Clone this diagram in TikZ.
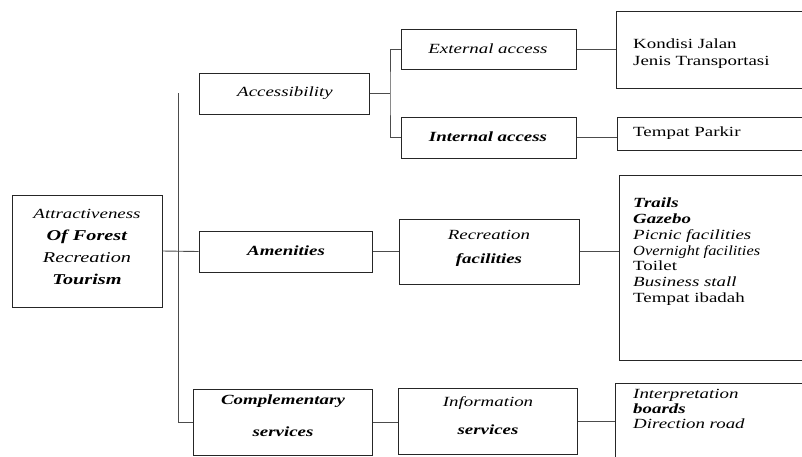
\documentclass[tikz,border=0pt]{standalone}
\usepackage{fontspec}
\setmainfont{Liberation Serif}[FakeStretch=1.35]
\newfontfamily\narrowserif{Liberation Serif}[FakeStretch=1.17]
\begin{document}
\begin{tikzpicture}[x=1pt,y=-1pt,
  box/.style={draw=black!85,line width=1pt,inner sep=0pt},
  conn/.style={draw=black!70,line width=0.9pt},
  txt/.style={inner sep=0pt,font=\fontsize{14}{15.7}\selectfont},
  lst/.style={inner sep=0pt,align=left,anchor=north west,font=\fontsize{14}{15.7}\selectfont}]
\useasboundingbox (0,0) rectangle (802,456);
\clip (0,0) rectangle (802,456);
% boxes
\node[box,minimum width=150pt,minimum height=112pt] (left) at (87,251) {};
\node[box,minimum width=170pt,minimum height=41pt] (acc) at (284,93.5) {};
\node[box,minimum width=173pt,minimum height=41pt] (ame) at (285.5,251.5) {};
\node[box,minimum width=179pt,minimum height=66pt] (comp) at (282.5,422) {};
\node[box,minimum width=175pt,minimum height=40pt] (ext) at (488.5,49) {};
\node[box,minimum width=175pt,minimum height=41pt] (int) at (488.5,137.5) {};
\node[box,minimum width=180pt,minimum height=65pt] (rec) at (489,251.5) {};
\node[box,minimum width=179pt,minimum height=66pt] (info) at (487.5,421) {};
\node[box,minimum width=200pt,minimum height=77pt] (kond) at (716,49.5) {};
\node[box,minimum width=200pt,minimum height=33pt] (park) at (717,133.5) {};
\node[box,minimum width=200pt,minimum height=185pt] (list) at (719,267.5) {};
\node[box,minimum width=200pt,minimum height=87pt] (bot) at (715,426.5) {};
% texts
\node[inner sep=0pt,align=center,font=\fontsize{14}{22}\selectfont] (lefttxt) at (87,247)
  {\textit{Attractiveness}\\ {\fontsize{15}{22}\selectfont\textbf{\textit{Of Forest}}}\\
   {\fontsize{15}{22}\selectfont\textit{Recreation}}\\ {\fontsize{15}{22}\selectfont\textbf{\textit{Tourism}}}};
\node[txt] (acctxt) at (285,93) {\textit{Accessibility}};
\node[txt] (ametxt) at (286,251) {\textbf{\textit{Amenities}}};
\node[inner sep=0pt,align=center,font=\fontsize{14}{32}\selectfont] (comptxt) at (283,416) {\textbf{\textit{Complementary}}\\ \textbf{\textit{services}}};
\node[txt] (exttxt) at (488,49) {\textit{External access}};
\node[txt] (inttxt) at (488,137) {\textbf{\textit{Internal access}}};
\node[inner sep=0pt,align=center,font=\fontsize{14}{24}\selectfont] (rectxt) at (489,248) {\textit{Recreation}\\ \textbf{\textit{facilities}}};
\node[inner sep=0pt,align=center,font=\fontsize{14}{28}\selectfont] (infotxt) at (488,416) {\textit{Information}\\ \textbf{\textit{services}}};
\node[lst,font=\fontsize{14}{17}\selectfont] (kondtxt) at (633,39) {Kondisi Jalan\\ Jenis Transportasi};
\node[lst,anchor=west] (parktxt) at (633,133) {Tempat Parkir};
\node[lst] (listtxt) at (633,198) {\textbf{\textit{Trails}}\\ \textbf{\textit{Gazebo}}\\ \textit{Picnic facilities}\\ {\narrowserif\itshape Overnight facilities}\\ Toilet\\ \textit{Business stall}\\ Tempat ibadah};
\node[lst,font=\fontsize{14}{15}\selectfont] (bottxt) at (633,389) {\textit{Interpretation}\\ \textbf{\textit{boards}}\\ \textit{Direction road}};
% connectors
\coordinate (ttop) at (178,93);
\coordinate (tbot) at (178,422);
\coordinate (accj) at (390,93.5);
\draw[conn] (left.east) -- (ame.west);
\draw[conn] (ttop) -- (tbot) -- (comp.west);
\draw[conn] (acc.east) -- (accj);
\draw[conn] (ext.west) -| (accj) |- (int.west);
\draw[conn] (ext.east) -- (ext.east -| kond.west);
\draw[conn] (int.east) -- (int.east -| park.west);
\draw[conn] (ame.east) -- (ame.east -| rec.west);
\draw[conn] (rec.east) -- (rec.east -| list.west);
\draw[conn] (comp.east) -- (comp.east -| info.west);
\draw[conn] (info.east) -- (info.east -| bot.west);
\end{tikzpicture}
\end{document}
